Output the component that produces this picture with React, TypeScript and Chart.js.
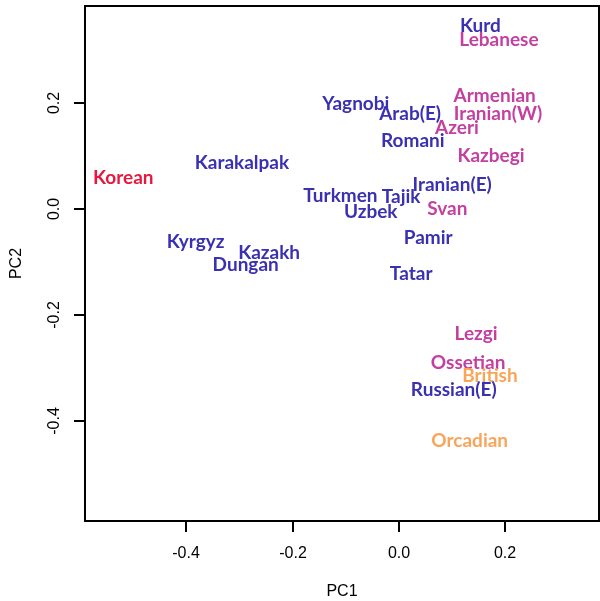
import React, { useEffect, useRef } from "react";
import { Chart, registerables } from "chart.js";

Chart.register(...registerables);

// Population labels and their principal-component coordinates
const populations = [
  "Kurd", "Lebanese", "Armenian", "Iranian(W)", "Yagnobi", "Arab(E)", "Azeri",
  "Romani", "Kazbegi", "Karakalpak", "Korean", "Iranian(E)", "Turkmen", "Tajik",
  "Svan", "Uzbek", "Pamir", "Kyrgyz", "Kazakh", "Dungan", "Tatar", "Lezgi",
  "Ossetian", "British", "Russian(E)", "Orcadian",
];
const pc1 = [
  0.153, 0.188, 0.180, 0.186, -0.081, 0.021, 0.109,
  0.026, 0.173, -0.295, -0.518, 0.100, -0.110, 0.004,
  0.091, -0.053, 0.055, -0.382, -0.244, -0.288, 0.023, 0.145,
  0.130, 0.171, 0.103, 0.133,
];
const pc2 = [
  0.347, 0.321, 0.215, 0.181, 0.200, 0.181, 0.155,
  0.130, 0.102, 0.089, 0.060, 0.047, 0.026, 0.025,
  0.002, -0.004, -0.053, -0.060, -0.081, -0.104, -0.121, -0.234,
  -0.289, -0.313, -0.341, -0.436,
];
// Group of each population: 0 = Central/West Asian, 1 = Caucasus/Near East, 2 = East Asian, 3 = European
const groups = [
  0, 1, 1, 1, 0, 0, 1,
  0, 1, 0, 2, 0, 0, 0,
  1, 0, 0, 0, 0, 0, 0, 1,
  1, 3, 0, 3,
];
const groupColors = ["#3a30b2", "#c43fa0", "#e8173d", "#f7a659"];

const xTicks = [-0.4, -0.2, 0.0, 0.2];
const yTicks = [-0.4, -0.2, 0.0, 0.2];
const xTitle = "PC1";
const yTitle = "PC2";

const LABEL_SIZE = 19;
const LABEL_FONT = `bold ${LABEL_SIZE}px Lato`;
const AXIS_FONT = "16px 'Liberation Sans', Arial, sans-serif";

const basePlotPlugin = {
  id: "basePlot",
  afterDatasetsDraw(chart: any) {
    const { ctx, chartArea, scales } = chart;
    const { left, right, top, bottom } = chartArea;
    const xs = scales.x;
    const ys = scales.y;
    ctx.save();

    // population labels centred on their points
    ctx.font = LABEL_FONT;
    ctx.textAlign = "center";
    ctx.textBaseline = "alphabetic";
    const meta = chart.getDatasetMeta(0);
    meta.data.forEach((pt: any, i: number) => {
      ctx.fillStyle = groupColors[groups[i]];
      ctx.fillText(populations[i], pt.x, pt.y + LABEL_SIZE * 0.36);
    });

    // frame
    ctx.strokeStyle = "#000";
    ctx.lineWidth = 2;
    ctx.strokeRect(left, top, right - left, bottom - top);

    // axis ticks and labels
    ctx.fillStyle = "#000";
    ctx.font = AXIS_FONT;
    ctx.textAlign = "center";
    ctx.textBaseline = "middle";
    ctx.lineWidth = 2;
    xTicks.forEach((v) => {
      const px = Math.round(xs.getPixelForValue(v));
      ctx.beginPath();
      ctx.moveTo(px, bottom);
      ctx.lineTo(px, bottom + 11);
      ctx.stroke();
      ctx.fillText(v.toFixed(1), px, bottom + 33);
    });
    yTicks.forEach((v) => {
      const py = Math.round(ys.getPixelForValue(v));
      ctx.beginPath();
      ctx.moveTo(left, py);
      ctx.lineTo(left - 11, py);
      ctx.stroke();
      ctx.save();
      ctx.translate(left - 30, py);
      ctx.rotate(-Math.PI / 2);
      ctx.fillText(v.toFixed(1), 0, 0);
      ctx.restore();
    });

    // axis titles
    ctx.fillText(xTitle, (left + right) / 2, bottom + 71);
    ctx.save();
    ctx.translate(17, (top + bottom) / 2);
    ctx.rotate(-Math.PI / 2);
    ctx.fillText(yTitle, 0, 0);
    ctx.restore();

    ctx.restore();
  },
};

export default function App() {
  const canvasRef = useRef<HTMLCanvasElement | null>(null);

  useEffect(() => {
    if (!canvasRef.current) return;
    const points = pc1.map((x, i) => ({ x, y: pc2[i] }));
    const chart = new Chart(canvasRef.current, {
      type: "scatter",
      data: {
        datasets: [
          {
            data: points,
            pointRadius: 0,
            pointHoverRadius: 0,
          },
        ],
      },
      options: {
        responsive: false,
        animation: false,
        devicePixelRatio: 1,
        layout: { padding: { left: 85, top: 6, right: 1, bottom: 80 } },
        plugins: {
          legend: { display: false },
          tooltip: { enabled: false },
        },
        scales: {
          x: { type: "linear", min: -0.59, max: 0.376, display: false },
          y: { type: "linear", min: -0.589, max: 0.383, display: false },
        },
      },
      plugins: [basePlotPlugin],
    });
    return () => chart.destroy();
  }, []);

  return (
    <div style={{ position: "absolute", left: 0, top: 0, width: 600, height: 601, background: "#fff" }}>
      <canvas ref={canvasRef} width={600} height={601} style={{ width: 600, height: 601 }} />
    </div>
  );
}
